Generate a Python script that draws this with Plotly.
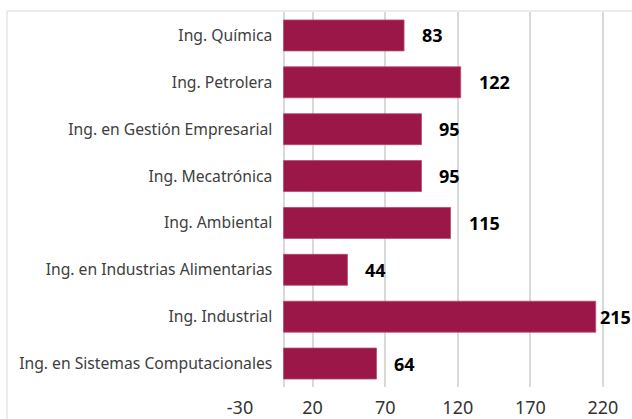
import plotly.graph_objects as go

# Data (top to bottom as shown)
carreras = [
    'Ing. Química',
    'Ing. Petrolera',
    'Ing. en Gestión Empresarial',
    'Ing. Mecatrónica',
    'Ing. Ambiental',
    'Ing. en Industrias Alimentarias',
    'Ing. Industrial',
    'Ing. en Sistemas Computacionales',
]
alumnos = [83, 122, 95, 95, 115, 44, 215, 64]

x_ticks = [-30, 20, 70, 120, 170, 220]

W, H = 632, 419
BAR_COLOR = '#9B1747'
GRID = '#d9d9d9'

fig = go.Figure()

fig.add_trace(go.Bar(
    y=carreras,
    x=alumnos,
    orientation='h',
    marker=dict(color=BAR_COLOR, line=dict(width=0.8, color='#b8476f')),
    hoverinfo='skip',
))

# value labels next to each bar
for cat, val in zip(carreras, alumnos):
    fig.add_annotation(
        x=val, y=cat, xref='x', yref='y',
        text=f'<b>{val}</b>',
        showarrow=False,
        xanchor='left',
        xshift=2 if val > 200 else 16,
        font=dict(family='Noto Sans', size=18, color='#000000'),
    )

# outer frame (Excel chart area border)
fig.add_shape(
    type='rect', xref='paper', yref='paper',
    x0=7 / W, x1=1.05, y0=-0.3, y1=1 + 1 / 375,
    line=dict(color=GRID, width=1), layer='below',
)

fig.update_layout(
    width=W, height=H,
    margin=dict(l=0, r=0, t=12, b=32, autoexpand=False),
    paper_bgcolor='white',
    plot_bgcolor='white',
    showlegend=False,
    bargap=0.34,
    font=dict(family='Noto Sans', color='#404040'),
    xaxis=dict(
        domain=[240 / W, 1],
        range=[-30, 240],
        tickmode='array',
        tickvals=x_ticks,
        ticktext=[str(v) for v in x_ticks],
        showgrid=True,
        gridcolor=GRID,
        gridwidth=1.5,
        zeroline=True,
        zerolinecolor=GRID,
        zerolinewidth=1.5,
        showline=False,
        ticks='',
        ticklabelstandoff=8,
        automargin=False,
        tickfont=dict(size=18, color='#333333'),
    ),
    yaxis=dict(
        anchor='free',
        position=284.3 / W,
        categoryorder='array',
        categoryarray=carreras[::-1],
        showgrid=False,
        zeroline=False,
        showline=False,
        ticks='',
        ticklabelstandoff=12,
        automargin=False,
        tickfont=dict(size=15.7, color='#404040'),
    ),
)

# page body has a default 8px margin; drop it so the figure fills the window
fig.write_html(
    'out.html',
    config={'displayModeBar': False},
    post_script="document.body.style.margin = '0';",
)
